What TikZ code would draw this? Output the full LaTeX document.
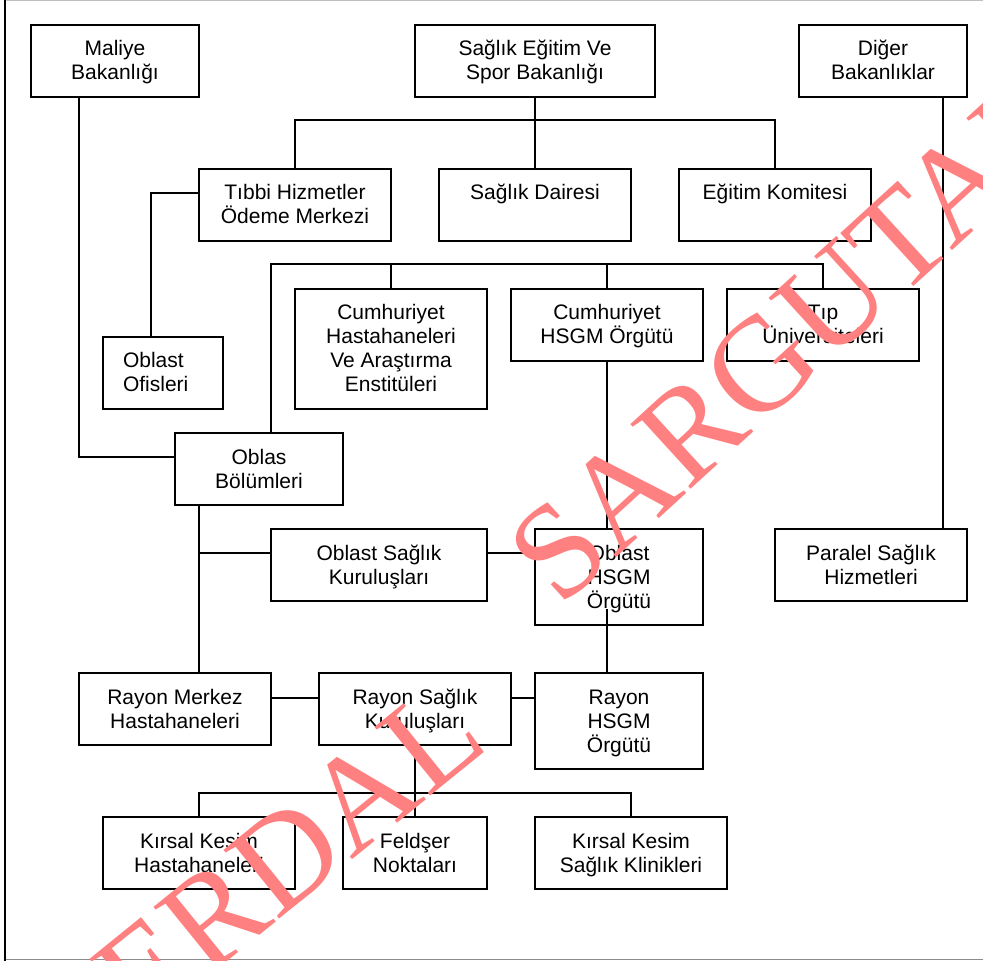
\documentclass[tikz,border=0pt]{standalone}
\usepackage{fontspec}
\setmainfont{Liberation Sans}
\newfontfamily\wmfont{Liberation Serif}
\usetikzlibrary{calc}
\definecolor{wmred}{RGB}{255,128,128}
\def\strt{\vrule height 9.5pt depth 2.5pt width 0pt}
\tikzset{
	unitbox/.style={draw, line width=1pt, align=center, anchor=north, inner xsep=4pt, inner ysep=6pt,
		font=\fontsize{10.5}{12}\selectfont, minimum width=#1},
	unitbox/.default=96pt,
	oneline/.style={unitbox=#1, text depth=14.5pt},
	oneline/.default=96pt,
	link/.style={line width=1pt},
	wmark/.style={text=wmred, inner sep=0pt, font=\wmfont\fontsize{#1}{70}\selectfont},
	wmark/.default=67.5
}

\begin{document}
\begin{tikzpicture}[x=0.5pt, y=-0.5pt]
		%%%%% START %%%%%
		\useasboundingbox (0,0) rectangle (983,961);
		
		% frame of the scanned page
		\draw[line width=0.5pt, color=black!25] (5,0.5) -- (983,0.5);
		\draw[line width=0.8pt, color=black!45] (5,959.5) -- (983,959.5);
		\draw[line width=1pt] (5,0) -- (5,961);
		
		% ministries
		\node[unitbox=84pt] (maliye) at (115,24) {\strt Maliye\\Bakanlığı\strt};
		\node[unitbox=120pt] (sevsb) at (535,24) {\strt Sağlık Eğitim Ve\\Spor Bakanlığı\strt};
		\node[unitbox=84pt] (diger) at (883,24) {\strt Diğer\\Bakanlıklar\strt};
		
		\node[unitbox] (tibbi) at (295,168) {\strt Tıbbi Hizmetler\\Ödeme Merkezi\strt};
		\node[oneline] (daire) at (535,168) {\strt Sağlık Dairesi};
		\node[oneline] (egitim) at (775,168) {\strt Eğitim Komitesi};
		
		\node[draw, line width=1pt, anchor=north, align=left, text width=40pt, inner xsep=10pt, inner ysep=6pt,
			font=\fontsize{10.5}{12}\selectfont] (ofis) at (163,336) {\strt Oblast\\Ofisleri\strt};
		\node[unitbox] (cumhas) at (391,288) {\strt Cumhuriyet\\Hastahaneleri\\Ve Araştırma\\Enstitüleri\strt};
		\node[unitbox] (cumhsgm) at (607,288) {\strt Cumhuriyet\\HSGM Örgütü\strt};
		\node[unitbox] (tip) at (823,288) {\strt Tıp\\Üniversiteleri\strt};
		
		\node[unitbox=84pt] (bolum) at (259,432) {\strt Oblas\\Bölümleri\strt};
		
		\node[unitbox=108pt] (oblsag) at (379,528) {\strt Oblast Sağlık\\Kuruluşları\strt};
		\node[unitbox=84pt] (oblhsgm) at (619,528) {\strt Oblast\\HSGM\\Örgütü\strt};
		\node[unitbox] (paralel) at (871,528) {\strt Paralel Sağlık\\Hizmetleri\strt};
		
		\node[unitbox] (rmerkez) at (175,672) {\strt Rayon Merkez\\Hastahaneleri\strt};
		\node[unitbox] (rsaglik) at (415,672) {\strt Rayon Sağlık\\Kuruluşları\strt};
		\node[unitbox=84pt] (rhsgm) at (619,672) {\strt Rayon\\HSGM\\Örgütü\strt};
		
		\node[unitbox] (kkhas) at (199,816) {\strt Kırsal Kesim\\Hastahaneleri\strt};
		\node[unitbox=72pt] (feldser) at (415,816) {\strt Feldşer\\Noktaları\strt};
		\node[unitbox] (kkskl) at (631,816) {\strt Kırsal Kesim\\Sağlık Klinikleri\strt};
		
		% connectors
		\draw[link] ([xshift=-18pt]maliye.south) |- ([yshift=6pt]bolum.west);
		\draw[link] ([xshift=30pt]diger.south) -- ([xshift=30pt]diger.south |- paralel.north);
		
		\coordinate (busA) at (535,120);
		\draw[link] (sevsb.south) -- (daire.north);
		\draw[link] (tibbi.north) |- (busA) -| (egitim.north);
		\draw[link] ([yshift=6pt]tibbi.west) -| ([xshift=-6pt]ofis.north);
		
		\coordinate (busB) at (607,264);
		\draw[link] ([xshift=6pt]bolum.north) |- (busB) -| (tip.north);
		\draw[link] (cumhas.north) -- (cumhas.north |- busB);
		\draw[link] (cumhsgm.north) -- (cumhsgm.north |- busB);
		
		\draw[link] (cumhsgm.south) -- (cumhsgm.south |- oblhsgm.north);
		\draw[link] ([xshift=-6pt, yshift=8.5pt]oblhsgm.south) -- ([xshift=-6pt]rhsgm.north);
		
		\coordinate (bolumleg) at ([xshift=-30pt]bolum.south);
		\draw[link] (bolumleg) -- (bolumleg |- rmerkez.north);
		\draw[link] ([yshift=6pt]oblsag.west) -| (bolumleg);
		\coordinate (e1) at ([yshift=6pt]oblsag.east);
		\draw[link] (e1) -- (e1 -| oblhsgm.west);
		
		\coordinate (r1) at ([yshift=5.5pt]rmerkez.east);
		\draw[link] (r1) -- (r1 -| rsaglik.west);
		\draw[link] (r1 -| rsaglik.east) -- (r1 -| rhsgm.west);
		
		\coordinate (busC) at (415,793);
		\draw[link] (rsaglik.south) -- (feldser.north);
		\draw[link] (kkhas.north) |- (busC) -| (kkskl.north);
		
		% watermark
		\node[wmark, rotate=39] (wmfirst) at (260,878) {SERDAL};
		\node[wmark, rotate=42.4] (wmsecond) at (798,332) {SARGUTAN};
		
		%%%%% END %%%%%
	\end{tikzpicture}
\end{document}
